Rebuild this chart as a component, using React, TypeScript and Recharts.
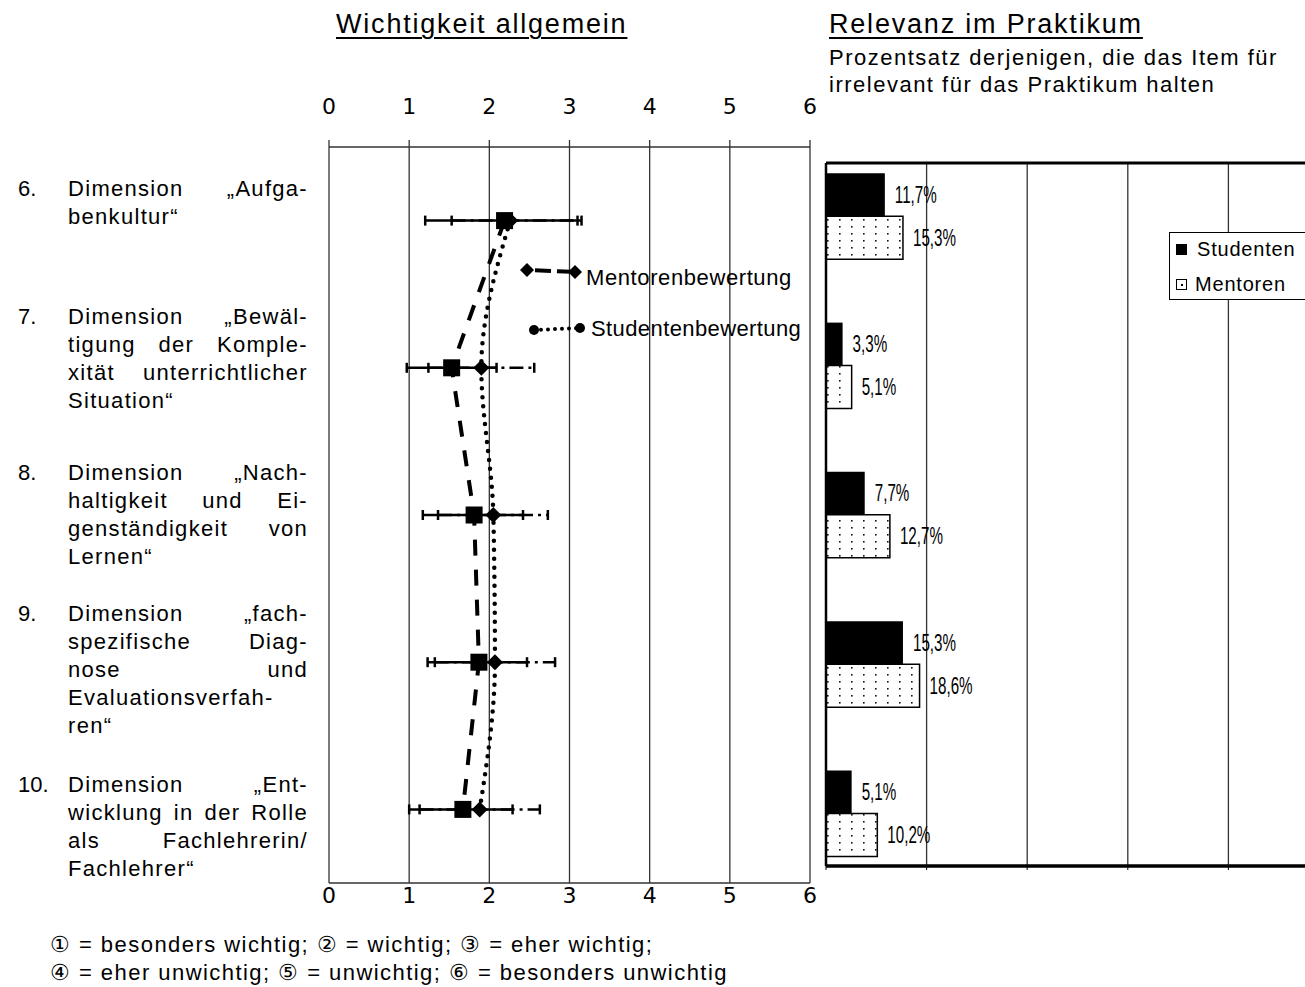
import React from 'react'
import {
  ComposedChart,
  Line,
  ErrorBar,
  XAxis,
  YAxis,
  CartesianGrid,
  Legend,
  BarChart,
  Bar,
  LabelList,
} from 'recharts'

// dimension numbers and their (hyphenated) label lines
const dimensions = ['6.', '7.', '8.', '9.', '10.']
const dimensionLines = [
  ['Dimension „Aufga-', 'benkultur“'],
  ['Dimension „Bewäl-', 'tigung der Komple-', 'xität unterrichtlicher', 'Situation“'],
  ['Dimension „Nach-', 'haltigkeit und Ei-', 'genständigkeit von', 'Lernen“'],
  ['Dimension „fach-', 'spezifische Diag-', 'nose und', 'Evaluationsverfah-', 'ren“'],
  ['Dimension „Ent-', 'wicklung in der Rolle', 'als Fachlehrerin/', 'Fachlehrer“'],
]

// mean rating (1 = besonders wichtig ... 6 = besonders unwichtig) with spread
const mentorenMean = [2.19, 1.53, 1.81, 1.87, 1.67]
const mentorenLow = [1.2, 0.97, 1.17, 1.23, 1.0]
const mentorenHigh = [3.15, 2.09, 2.42, 2.47, 2.29]
const studentenMean = [2.26, 1.9, 2.05, 2.07, 1.88]
const studentenLow = [1.53, 1.24, 1.36, 1.32, 1.13]
const studentenHigh = [3.1, 2.56, 2.73, 2.82, 2.63]

// share (%) who think the item is irrelevant for the internship
const irrelevantStudenten = [11.7, 3.3, 7.7, 15.3, 5.1]
const irrelevantMentoren = [15.3, 5.1, 12.7, 18.6, 10.2]

const scaleTicks = [0, 1, 2, 3, 4, 5, 6]
const percentTicks = [0, 20, 40, 60, 80, 100]
const rowTicks = [1, 2, 3, 4, 5]

const scaleKey = [
  '① = besonders wichtig; ② = wichtig; ③ = eher wichtig;',
  '④ = eher unwichtig; ⑤ = unwichtig; ⑥ = besonders unwichtig',
]

// top edge of each label block on the left
const labelTops = [175, 303, 459, 600, 771]

const SANS = '"Liberation Sans", Arial, Helvetica, sans-serif'

const ratingRows = dimensions.map((d, i) => ({
  pos: i + 1,
  name: d,
  mentoren: mentorenMean[i],
  mentorenErr: [mentorenMean[i] - mentorenLow[i], mentorenHigh[i] - mentorenMean[i]],
  studenten: studentenMean[i],
  studentenErr: [studentenMean[i] - studentenLow[i], studentenHigh[i] - studentenMean[i]],
}))

const relevanceRows = dimensions.map((d, i) => ({
  pos: i + 1,
  name: d,
  studenten: irrelevantStudenten[i],
  mentoren: irrelevantMentoren[i],
}))

const pct = (v: any) => `${Number(v).toFixed(1).replace('.', ',')}%`

// condensed value label to the right of a bar
const narrowLabel = (props: any) => {
  const { x, y, width, height, value, index } = props
  const lx = Number(x) + Number(width) + 10
  const ly = Number(y) + Number(height) / 2 + 8
  return (
    <text
      key={`lbl-${index}`}
      transform={`translate(${lx},${ly}) scale(0.66,1)`}
      fontFamily={SANS}
      fontSize={23}
      fill="#000"
    >
      {pct(value)}
    </text>
  )
}

// percent axis keeps its ticks (for the grid) but shows no numbers
const noTickLabel = () => <g />

const squareDot = (props: any) => {
  const { cx, cy, index } = props
  if (cx == null || cy == null) return <g key={`sq-${index}`} />
  return <rect key={`sq-${index}`} x={cx - 8.5} y={cy - 8.5} width={17} height={17} fill="#000" />
}

const diamondDot = (props: any) => {
  const { cx, cy, index } = props
  if (cx == null || cy == null) return <g key={`di-${index}`} />
  const r = 8
  return (
    <polygon
      key={`di-${index}`}
      points={`${cx},${cy - r} ${cx + r},${cy} ${cx},${cy + r} ${cx - r},${cy}`}
      fill="#000"
    />
  )
}

const Diamond = ({ x, y }: { x: number; y: number }) => (
  <polygon points={`${x},${y - 7} ${x + 7},${y} ${x},${y + 7} ${x - 7},${y}`} fill="#000" />
)

const RatingKey = () => (
  <svg width={300} height={95} style={{ overflow: 'visible' }}>
    <line x1={15} y1={18} x2={63} y2={20} stroke="#000" strokeWidth={4} strokeDasharray="0 8 16 6 14 20" />
    <Diamond x={15} y={18} />
    <Diamond x={63} y={20} />
    <text x={74} y={33} fontSize={22} fontFamily={SANS} letterSpacing={0.6} fill="#000">
      Mentorenbewertung
    </text>
    <line x1={22} y1={78} x2={68} y2={76} stroke="#000" strokeWidth={4} strokeLinecap="round" strokeDasharray="0 7" />
    <circle cx={22} cy={78} r={5} fill="#000" />
    <circle cx={68} cy={76} r={5} fill="#000" />
    <text x={79} y={84} fontSize={22} fontFamily={SANS} letterSpacing={0.4} fill="#000">
      Studentenbewertung
    </text>
  </svg>
)

const GroupKey = () => (
  <div
    style={{
      position: 'relative',
      width: 200,
      height: 66,
      border: '1.5px solid #000',
      background: '#fff',
      fontFamily: SANS,
      fontSize: 20,
      letterSpacing: 0.8,
      color: '#000',
    }}
  >
    <div style={{ position: 'absolute', left: 6, top: 11, width: 11, height: 11, background: '#000' }} />
    <div style={{ position: 'absolute', left: 27, top: 3, lineHeight: '26px' }}>Studenten</div>
    <div
      style={{
        position: 'absolute',
        left: 6,
        top: 46,
        width: 9,
        height: 9,
        border: '1px solid #000',
        background: '#fff',
      }}
    >
      <div style={{ position: 'absolute', left: 3.5, top: 3.5, width: 2, height: 2, background: '#000' }} />
    </div>
    <div style={{ position: 'absolute', left: 25, top: 38, lineHeight: '26px' }}>Mentoren</div>
  </div>
)

const LabelBlock = ({ num, lines, top }: { num: string; lines: string[]; top: number }) => (
  <div style={{ position: 'absolute', left: 18, top, width: 290, fontSize: 22, lineHeight: '28px' }}>
    <div style={{ position: 'absolute', left: 0, top: 0 }}>{num}</div>
    <div style={{ position: 'absolute', left: 50, top: 0, width: 240 }}>
      {lines.map((line, i) => {
        const words = line.split(' ')
        const last = i === lines.length - 1 || words.length === 1
        return (
          <div
            key={i}
            style={{
              display: 'flex',
              justifyContent: last ? 'flex-start' : 'space-between',
              letterSpacing: 1.3,
              whiteSpace: 'nowrap',
              gap: last ? 8 : 0,
            }}
          >
            {words.map((w, j) => (
              <span key={j}>{w}</span>
            ))}
          </div>
        )
      })}
    </div>
  </div>
)

const headingStyle: React.CSSProperties = {
  position: 'absolute',
  top: 11,
  fontSize: 27,
  lineHeight: '27px',
  letterSpacing: 1.8,
  textDecoration: 'underline',
  textUnderlineOffset: 4,
  textDecorationThickness: 2,
  whiteSpace: 'nowrap',
}

export default function App() {
  return (
    <div
      style={{
        position: 'fixed',
        left: 0,
        top: 0,
        width: 1305,
        height: 987,
        overflow: 'hidden',
        background: '#fff',
        fontFamily: SANS,
        color: '#000',
      }}
    >
      <svg width={0} height={0} style={{ position: 'absolute' }}>
        <defs>
          <pattern id="dots" width={12} height={7} patternUnits="userSpaceOnUse">
            <rect width={12} height={7} fill="#fff" />
            <rect x={3} y={2} width={1.6} height={1.6} fill="#111" />
          </pattern>
        </defs>
      </svg>

      {/* headings */}
      <div style={{ ...headingStyle, left: 336 }}>Wichtigkeit allgemein</div>
      <div style={{ ...headingStyle, left: 829 }}>Relevanz im Praktikum</div>
      <div
        style={{
          position: 'absolute',
          left: 829,
          top: 44,
          fontSize: 22,
          lineHeight: '27px',
          letterSpacing: 1.5,
          whiteSpace: 'nowrap',
        }}
      >
        <div>Prozentsatz derjenigen, die das Item für</div>
        <div>irrelevant für das Praktikum halten</div>
      </div>

      {/* row labels */}
      {dimensions.map((d, i) => (
        <LabelBlock key={d} num={d} lines={dimensionLines[i]} top={labelTops[i]} />
      ))}

      {/* general importance: mean ratings with spread */}
      <div style={{ position: 'absolute', left: 300, top: 60 }}>
        <ComposedChart
          layout="vertical"
          width={540}
          height={860}
          data={ratingRows}
          margin={{ top: 47, right: 30, bottom: 7, left: 29 }}
        >
          <CartesianGrid horizontal={false} stroke="#333" strokeWidth={1.3} />
          <XAxis
            xAxisId="top"
            orientation="top"
            type="number"
            domain={[0, 6]}
            ticks={scaleTicks}
            allowDataOverflow
            height={40}
            tickSize={7}
            tickMargin={26}
            axisLine={{ stroke: '#333', strokeWidth: 1.3 }}
            tickLine={{ stroke: '#333', strokeWidth: 1.3 }}
            tick={{ fontSize: 22, fill: '#000', fontFamily: '"DejaVu Sans", sans-serif' }}
          />
          <XAxis
            type="number"
            domain={[0, 6]}
            ticks={scaleTicks}
            allowDataOverflow
            height={30}
            tickSize={0}
            tickMargin={4}
            tickLine={false}
            axisLine={{ stroke: '#333', strokeWidth: 1.3 }}
            tick={{ fontSize: 22, fill: '#000', fontFamily: '"DejaVu Sans", sans-serif' }}
          />
          <YAxis type="number" dataKey="pos" domain={[0.5, 5.5]} ticks={rowTicks} hide />
          <Legend
            layout="vertical"
            align="center"
            verticalAlign="middle"
            wrapperStyle={{ left: 212, top: 192, width: 300, height: 95 }}
            content={() => <RatingKey />}
          />
          <Line
            dataKey="studenten"
            type="monotone"
            stroke="#000"
            strokeWidth={4.5}
            strokeLinecap="round"
            strokeDasharray="0 9"
            dot={diamondDot}
            activeDot={false}
            isAnimationActive={false}
          >
            <ErrorBar
              dataKey="studentenErr"
              direction="x"
              width={5}
              stroke="#000"
              strokeWidth={2.5}
              strokeDasharray="14 5 3 5"
            />
          </Line>
          <Line
            dataKey="mentoren"
            type="linear"
            stroke="#000"
            strokeWidth={4}
            strokeDasharray="16 14"
            dot={squareDot}
            activeDot={false}
            isAnimationActive={false}
          >
            <ErrorBar dataKey="mentorenErr" direction="x" width={5} stroke="#000" strokeWidth={2.5} />
          </Line>
        </ComposedChart>
      </div>

      {/* relevance in the internship: share rating the item irrelevant */}
      <div style={{ position: 'absolute', left: 800, top: 140 }}>
        <BarChart
          layout="vertical"
          width={535}
          height={750}
          data={relevanceRows}
          margin={{ top: 22, right: 6, bottom: 14, left: 25 }}
          barSize={43}
          barGap={0}
        >
          <CartesianGrid horizontal={false} stroke="#333" strokeWidth={1.3} />
          <XAxis
            xAxisId="frame"
            orientation="top"
            type="number"
            domain={[0, 100]}
            ticks={percentTicks}
            allowDataOverflow
            height={1}
            tick={false}
            tickLine={false}
            axisLine={{ stroke: '#000', strokeWidth: 3 }}
          />
          <XAxis
            type="number"
            domain={[0, 100]}
            ticks={percentTicks}
            allowDataOverflow
            height={10}
            tick={noTickLabel}
            tickSize={4}
            tickLine={{ stroke: '#000' }}
            axisLine={{ stroke: '#000', strokeWidth: 3.5 }}
          />
          <YAxis
            type="number"
            dataKey="pos"
            domain={[0.645, 5.355]}
            ticks={rowTicks}
            width={1}
            tick={false}
            tickLine={false}
            axisLine={{ stroke: '#000', strokeWidth: 2.5 }}
          />
          <Legend
            layout="vertical"
            align="center"
            verticalAlign="middle"
            wrapperStyle={{ left: 369, top: 92, width: 205, height: 70 }}
            content={() => <GroupKey />}
          />
          <Bar dataKey="studenten" fill="#000" isAnimationActive={false}>
            <LabelList dataKey="studenten" content={narrowLabel} />
          </Bar>
          <Bar dataKey="mentoren" fill="url(#dots)" stroke="#000" strokeWidth={1.5} isAnimationActive={false}>
            <LabelList dataKey="mentoren" content={narrowLabel} />
          </Bar>
        </BarChart>
      </div>

      {/* scale key */}
      <div
        style={{
          position: 'absolute',
          left: 50,
          top: 931,
          fontSize: 22,
          lineHeight: '28px',
          letterSpacing: 1.45,
          whiteSpace: 'nowrap',
        }}
      >
        {scaleKey.map((t) => (
          <div key={t}>{t}</div>
        ))}
      </div>
    </div>
  )
}
